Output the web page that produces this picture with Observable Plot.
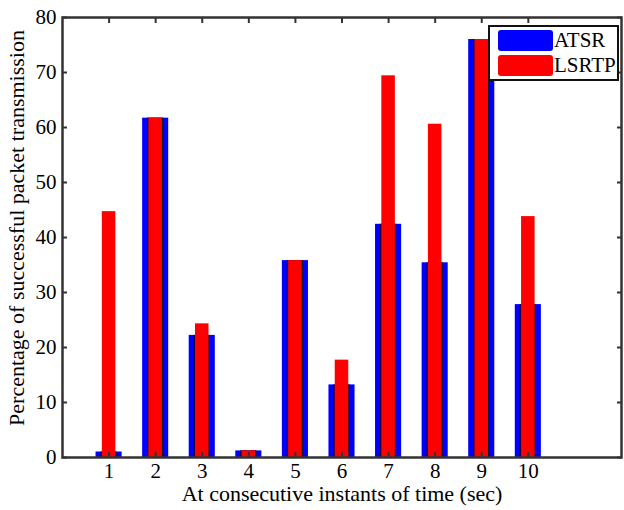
<!DOCTYPE html>
<html>
<head>
<meta charset="utf-8">
<script src="https://cdn.jsdelivr.net/npm/d3@7"></script>
<script src="https://cdn.jsdelivr.net/npm/@observablehq/plot@0.6"></script>
<style>
  body { margin: 0; background: #fff; }
  #wrap { position: relative; width: 624px; height: 510px; font-family: "Liberation Serif", "Times New Roman", serif; }
  #legend { position: absolute; left: 488px; top: 25px; width: 127px; height: 52px; border: 2.5px solid #111; background: #fff; }
  .row { position: absolute; left: 8px; height: 22px; display: flex; align-items: center; }
  .sw { width: 55px; height: 21px; border-radius: 3px; margin-right: 1px; }
  .lab { font-size: 21px; color: #000; line-height: 1; }
</style>
</head>
<body>
<div id="wrap"></div>
<script>
const instants = [1, 2, 3, 4, 5, 6, 7, 8, 9, 10];
const atsr  = [1.0, 61.7, 22.2, 1.2, 35.8, 13.2, 42.4, 35.4, 76.0, 27.8];
const lsrtp = [44.7, 61.7, 24.3, 1.2, 35.8, 17.7, 69.4, 60.6, 76.0, 43.8];
const yTicks = [0, 10, 20, 30, 40, 50, 60, 70, 80];
const seriesNames = ["ATSR", "LSRTP"];
const seriesColors = ["#0000ff", "#ff0000"];

const data = instants.map((t, i) => ({t, a: atsr[i], l: lsrtp[i], m: Math.min(atsr[i], lsrtp[i])}));
const blueHalf = 0.28, redHalf = 0.145;

const font = "Liberation Serif, Times New Roman, serif";
const chart = Plot.plot({
  width: 624,
  height: 510,
  marginLeft: 62,
  marginRight: 3,
  marginTop: 17,
  marginBottom: 53,
  style: {fontFamily: font, fontSize: "21px", color: "#000", background: "#fff"},
  x: {domain: [0, 12]},
  y: {domain: [0, 80]},
  marks: [
    Plot.rectY(data, {x1: d => d.t - blueHalf, x2: d => d.t + blueHalf, y1: 0, y2: "a", fill: seriesColors[0]}),
    Plot.rectY(data, {x1: d => d.t - redHalf - 0.03, x2: d => d.t + redHalf + 0.03, y1: 0, y2: "m", fill: "#1a0033"}),
    Plot.rectY(data, {x1: d => d.t - redHalf, x2: d => d.t + redHalf, y1: 0, y2: "l", fill: seriesColors[1]}),
    Plot.axisX(instants, {anchor: "bottom", tickSize: -5, tickPadding: 11, stroke: "#333", strokeWidth: 2, fontSize: 21, label: null}),
    Plot.axisX(instants, {anchor: "top", tickSize: -5, tickFormat: () => "", stroke: "#333", strokeWidth: 2, label: null}),
    Plot.axisY(yTicks, {anchor: "left", tickSize: -5, tickPadding: 11, stroke: "#333", strokeWidth: 2, fontSize: 21, label: null}),
    Plot.axisY(yTicks, {anchor: "right", tickSize: -5, tickFormat: () => "", stroke: "#333", strokeWidth: 2, label: null}),
    Plot.frame({stroke: "#333", strokeWidth: 2.5})
  ]
});

const svg = d3.select(chart);
svg.append("text")
  .attr("x", 342).attr("y", 501)
  .attr("text-anchor", "middle")
  .style("font-family", font).style("font-size", "22px").attr("fill", "#000")
  .text("At consecutive instants of time (sec)");
svg.append("text")
  .attr("transform", "translate(24,228) rotate(-90)")
  .attr("text-anchor", "middle")
  .style("font-family", font).style("font-size", "22px").attr("fill", "#000")
  .text("Percentage of successful packet transmission");

const wrap = document.getElementById("wrap");
wrap.appendChild(chart);

const legend = document.createElement("div");
legend.id = "legend";
seriesNames.forEach((name, i) => {
  const row = document.createElement("div");
  row.className = "row";
  row.style.top = (2 + i * 25) + "px";
  const sw = document.createElement("div");
  sw.className = "sw";
  sw.style.background = seriesColors[i];
  const lab = document.createElement("span");
  lab.className = "lab";
  lab.textContent = name;
  row.appendChild(sw);
  row.appendChild(lab);
  legend.appendChild(row);
});
wrap.appendChild(legend);
</script>
</body>
</html>
